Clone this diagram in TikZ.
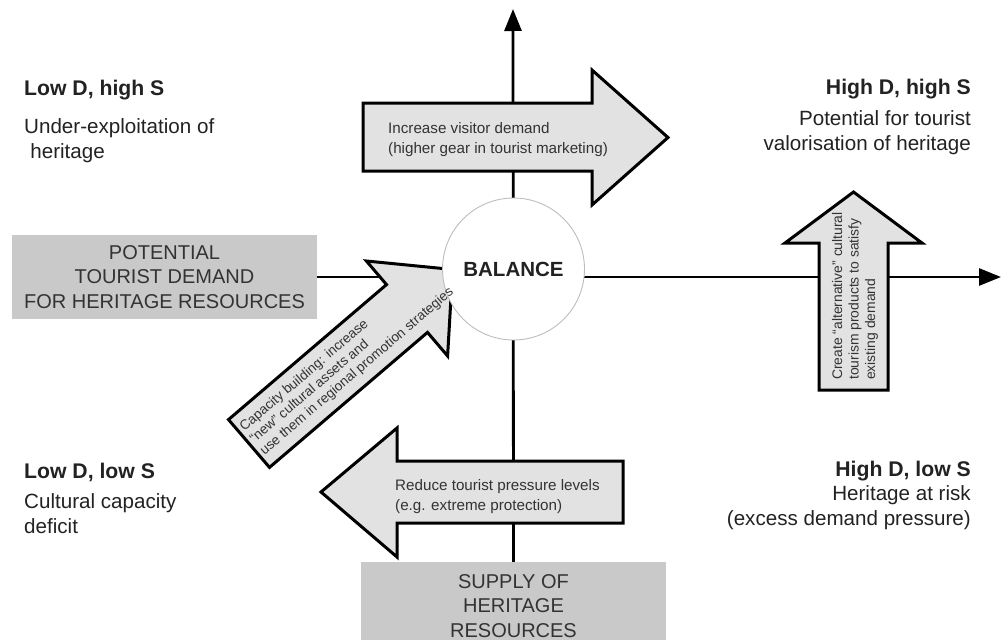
\documentclass[tikz,border=0pt]{standalone}
\usepackage{fontspec}
\setmainfont{Liberation Sans}
\usetikzlibrary{arrows.meta}
\definecolor{boxgray}{HTML}{C9C9C9}
\definecolor{arrgray}{HTML}{E2E2E2}
\definecolor{txtdark}{HTML}{222222}
\definecolor{txtmid}{HTML}{333333}
\definecolor{circgray}{HTML}{BDBDBD}
\begin{document}
\begin{tikzpicture}[x=1pt,y=-1pt,
  axisline/.style={line width=2.8pt, draw=black, -{Triangle[length=22pt,width=17pt]}},
  fatarrow/.style={line width=3pt, draw=black, fill=arrgray, line join=miter},
  resbox/.style={fill=boxgray, draw=none, inner sep=0pt, text=txtmid, align=center,
    font=\fontsize{20}{24.5}\selectfont},
  title/.style={inner sep=0pt, text=txtdark, font=\fontsize{21.2}{25}\selectfont\bfseries},
  desc/.style={inner sep=0pt, text=txtdark, font=\fontsize{20.6}{25}\selectfont},
  arrtext/.style={inner sep=0pt, text=txtmid, align=left, font=\fontsize{15.2}{20}\selectfont},
  smalltext/.style={inner sep=0pt, text=txtmid, align=left, font=\fontsize{13.9}{16.5}\selectfont},
  diagtext/.style={inner sep=0pt, text=txtmid, align=left, font=\fontsize{13.6}{15.5}\selectfont}]
\useasboundingbox (0,0) rectangle (1002,640);

% resource boxes
\node[resbox, minimum width=305pt, minimum height=84pt] (pot) at (164.5,277)
  {POTENTIAL\\TOURIST DEMAND\\FOR HERITAGE RESOURCES};
\node[resbox, minimum width=305pt, minimum height=80pt] (sup) at (513.5,602) {};
\node[inner sep=0pt, text=txtmid, align=center, font=\fontsize{20}{24.5}\selectfont] (suptxt) at (513.5,606)
  {SUPPLY OF\\HERITAGE\\RESOURCES};

% axes
\coordinate (xend) at (1001,277);
\coordinate (yend) at (513,9);
\draw[axisline] (pot.east) -- (xend);
\draw[axisline] (sup.north) -- (yend);

% fat arrows
\draw[fatarrow] (363,103) -- (592,103) -- (592,70) -- (668,137.5) -- (592,205) -- (592,171) -- (363,171) -- cycle;
\draw[fatarrow] (623,461) -- (397,461) -- (397,428) -- (321,492) -- (397,557) -- (397,523) -- (623,523) -- cycle;
\draw[fatarrow] (819,390) -- (819,243) -- (785,243) -- (853.5,192) -- (922,243) -- (888,243) -- (888,390) -- cycle;
\draw[fatarrow] (228.5,419.6) -- (386.5,284.6) -- (366.4,261) -- (452.6,269.5) -- (447.6,356) -- (427.5,332.4) -- (269.5,467.4) -- cycle;

% balance circle
\node[circle, draw=circgray, line width=0.9pt, fill=white, minimum size=142pt, inner sep=0pt,
  font=\fontsize{20.5}{24}\selectfont\bfseries, text=txtdark] (bal) at (513.5,269) {BALANCE};

% arrow texts
\node[arrtext, anchor=west] (tinc) at (388,140) {Increase visitor demand\\(higher gear in tourist marketing)};
\node[arrtext, anchor=west] (tred) at (395,497) {Reduce tourist pressure levels\\(e.g. extreme protection)};
\node[smalltext, anchor=west, rotate=90] (talt) at (855,380) {Create ``alternative'' cultural\\tourism products to satisfy\\existing demand};
\node[diagtext, anchor=west, rotate=40.5] (tcap) at (252,441) {Capacity building: increase\\``new'' cultural assets and\\use them in regional promotion strategies};

% corner labels
\node[title, anchor=base west] (lhs) at (24,95) {Low D, high S};
\node[desc, anchor=base west, align=left] (lhsd) at (24,158) {Under-exploitation of\\\hspace*{0.3em}heritage};
\node[title, anchor=base east] (hhs) at (971,94) {High D, high S};
\node[desc, anchor=base east, align=right] (hhsd) at (971,150) {Potential for tourist\\valorisation of heritage};
\node[title, anchor=base west] (lls) at (24,478) {Low D, low S};
\node[desc, anchor=base west, align=left] (llsd) at (24,533) {Cultural capacity\\deficit};
\node[title, anchor=base east] (hls) at (971,476) {High D, low S};
\node[desc, anchor=base east, align=right] (hlsd) at (971,525) {Heritage at risk\\(excess demand pressure)};
\end{tikzpicture}
\end{document}
